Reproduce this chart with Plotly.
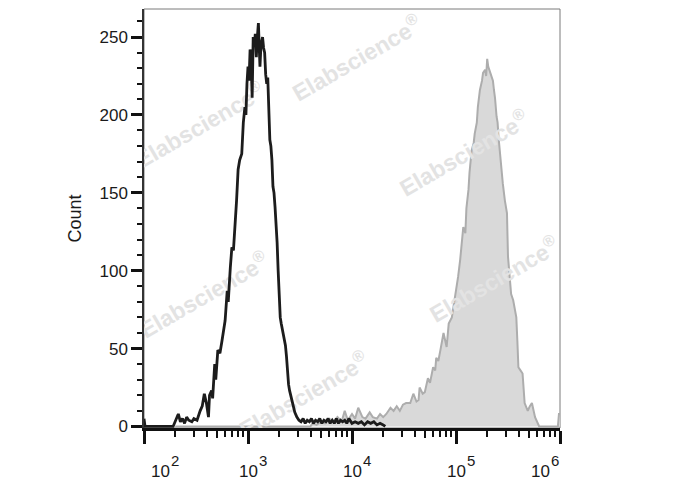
import plotly.graph_objects as go

# ---------------- data ----------------
# x positions are given as log10 of the fluorescence intensity
black_log10_x = [
    2.00, 2.01, 2.28, 2.30, 2.33, 2.35, 2.37, 2.39, 2.41, 2.43,
    2.46, 2.48, 2.51, 2.54, 2.56, 2.58, 2.60, 2.62, 2.63, 2.65,
    2.66, 2.68, 2.69, 2.71, 2.73, 2.75, 2.77, 2.78, 2.80, 2.81,
    2.83, 2.845, 2.86, 2.875, 2.89, 2.905, 2.92, 2.94, 2.955, 2.97,
    2.98, 2.99, 3.00, 3.01, 3.02, 3.03, 3.04, 3.05, 3.06, 3.07,
    3.08, 3.09, 3.10, 3.11, 3.115, 3.125, 3.14, 3.15, 3.16, 3.17,
    3.18, 3.19, 3.20, 3.21, 3.22, 3.23, 3.24, 3.25, 3.26, 3.27,
    3.28, 3.29, 3.30, 3.31, 3.32, 3.34, 3.36, 3.37, 3.38, 3.39,
    3.40, 3.42, 3.43, 3.45, 3.47, 3.49, 3.51, 3.53, 3.55, 3.57,
    3.59, 3.61, 3.63, 3.65, 3.67, 3.69, 3.71, 3.73, 3.75, 3.77,
    3.79, 3.81, 3.83, 3.85, 3.87, 3.89, 3.91, 3.93, 3.95, 3.97,
    4.00, 4.03, 4.06, 4.09, 4.12, 4.15, 4.18, 4.21, 4.24, 4.27,
    4.30, 4.32,
]
black_count = [
    5, 0, 0, 3, 8, 3, 5, 2, 6, 4,
    3, 5, 4, 10, 13, 21, 15, 6, 20, 23,
    18, 40, 30, 49, 47, 55, 63, 68, 87, 80,
    102, 115, 113, 126, 145, 165, 171, 175, 195, 205,
    200, 220, 231, 222, 242, 235, 211, 250, 244, 252,
    237, 250, 259, 240, 231, 245, 250, 243, 240, 226,
    220, 224, 200, 184, 180, 171, 154, 150, 141, 130,
    118, 100, 80, 70, 66, 60, 52, 45, 31, 27,
    23, 17, 15, 9, 6, 4, 3, 5, 2, 4,
    3, 5, 2, 4, 3, 5, 2, 4, 3, 5,
    2, 4, 2, 5, 2, 4, 3, 4, 2, 5,
    2, 3, 2, 3, 1, 3, 2, 3, 1, 2,
    1, 0,
]

grey_log10_x = [
    2.30, 3.60, 3.62, 3.66, 3.70, 3.74, 3.78, 3.82, 3.86, 3.90,
    3.93, 3.96, 4.00, 4.03, 4.06, 4.10, 4.13, 4.17, 4.20, 4.24,
    4.27, 4.30, 4.33, 4.37, 4.40, 4.43, 4.46, 4.49, 4.52, 4.56,
    4.59, 4.62, 4.64, 4.65, 4.68, 4.70, 4.73, 4.75, 4.78, 4.80,
    4.81, 4.83, 4.85, 4.88, 4.91, 4.93, 4.96, 4.98, 5.01, 5.02,
    5.04, 5.05, 5.06, 5.07, 5.09, 5.10, 5.12, 5.13, 5.15, 5.17,
    5.18, 5.20, 5.21, 5.23, 5.25, 5.26, 5.28, 5.29, 5.30, 5.31,
    5.33, 5.345, 5.355, 5.365, 5.375, 5.39, 5.40, 5.41, 5.42, 5.44,
    5.45, 5.47, 5.49, 5.50, 5.52, 5.53, 5.55, 5.58, 5.59, 5.60,
    5.62, 5.64, 5.66, 5.69, 5.71, 5.73, 5.76, 5.79, 5.80, 5.98,
    5.99, 6.00,
]
grey_count = [
    0, 0, 2, 1, 3, 2, 5, 3, 6, 3,
    10, 4, 8, 5, 12, 6, 5, 9, 6, 5,
    8, 6, 8, 12, 10, 13, 10, 14, 15, 15,
    21, 16, 17, 25, 21, 22, 31, 28, 38, 36,
    44, 42, 49, 60, 51, 66, 70, 78, 92, 96,
    107, 113, 120, 128, 124, 140, 152, 163, 177, 182,
    188, 195, 205, 216, 222, 227, 229, 225, 236, 231,
    227, 224, 222, 216, 211, 199, 195, 185, 177, 166,
    156, 145, 137, 109, 89, 85, 81, 70, 55, 38,
    36, 34, 15, 10, 13, 15, 6, 2, 0, 0,
    8, 8,
]

x_tick_exponents = [2, 3, 4, 5, 6]
y_tick_values = [0, 50, 100, 150, 200, 250]
y_axis_title = "Count"
watermark_text = "Elabscience<sup>®</sup>"
# watermark centres: (log10 x, count)
watermark_centres = [
    (4.05, 236), (2.54, 193), (5.08, 175),
    (2.58, 84), (5.37, 94), (3.54, 20),
]

assert len(black_log10_x) == len(black_count)
assert len(grey_log10_x) == len(grey_count)

FONT = "Liberation Sans, Arial, Helvetica, sans-serif"

black_x = [10 ** v for v in black_log10_x]
grey_x = [10 ** v for v in grey_log10_x]

fig = go.Figure()

# grey filled histogram (main subplot)
fig.add_trace(go.Scatter(
    x=grey_x, y=grey_count, mode="lines",
    line=dict(color="#adadad", width=2),
    fill="tozeroy", fillcolor="#d9d9d9",
    xaxis="x", yaxis="y", hoverinfo="skip", showlegend=False,
))

# black open histogram (second subplot, drawn above the watermark)
fig.add_trace(go.Scatter(
    x=black_x, y=black_count, mode="lines",
    line=dict(color="#1c1c1c", width=2.8),
    xaxis="x2", yaxis="y2", hoverinfo="skip", showlegend=False,
))

# tick positions on the log axis
minor_vals = [m * 10 ** e for e in range(2, 6) for m in (2, 3, 4, 6, 7, 8, 9)]
mid_vals = [5 * 10 ** e for e in range(2, 6)]
major_vals = [10 ** e for e in x_tick_exponents]

y_range = [-1, 268]

# the page body adds an 8px offset, so the figure is 8px smaller than the window
fig.update_layout(
    width=680, height=482,
    margin=dict(l=136, r=128, t=1, b=62),
    paper_bgcolor="white", plot_bgcolor="rgba(0,0,0,0)",
    font=dict(family=FONT, color="#1a1a1a", size=16),
    xaxis=dict(
        type="log", range=[2, 6], domain=[0, 1], anchor="y",
        showgrid=False, zeroline=False,
        showline=True, linecolor="#111111", linewidth=2.5,
        ticks="outside", tickmode="array", tickvals=major_vals,
        ticklen=13, tickwidth=3, tickcolor="#111111",
        showticklabels=False,
        minor=dict(tickmode="array", tickvals=minor_vals, ticks="outside",
                   ticklen=6, tickwidth=1.6, tickcolor="#111111", showgrid=False),
    ),
    xaxis2=dict(
        type="log", range=[2, 6], domain=[0, 1], anchor="y2",
        showgrid=False, zeroline=False, showline=False,
        ticks="outside", tickmode="array", tickvals=mid_vals,
        ticklen=9, tickwidth=2.4, tickcolor="#111111",
        showticklabels=False,
    ),
    yaxis=dict(
        range=y_range, domain=[0, 1], anchor="x",
        showgrid=False, zeroline=False,
        showline=True, linecolor="#333333", linewidth=1.5,
        ticks="outside", tickmode="array", tickvals=y_tick_values,
        ticklen=11, tickwidth=3, tickcolor="#111111",
        tickfont=dict(family=FONT, size=17, color="#1a1a1a"),
        minor=dict(dtick=10, ticks="outside", ticklen=5, tickwidth=1.5,
                   tickcolor="#111111", showgrid=False),
    ),
    yaxis2=dict(
        range=y_range, domain=[0, 1], anchor="x2", visible=False,
    ),
)

# light frame around the plot area
fig.add_shape(type="rect", xref="paper", yref="paper", x0=0, x1=1, y0=0, y1=1,
              line=dict(color="#7a7a7a", width=1), layer="below")

# watermark (in the upper subplot's lower layer: above grey fill, below black line)
for cx, cy in watermark_centres:
    fig.add_shape(
        type="rect", xref="x2", yref="y2",
        x0=10 ** (cx - 0.01), x1=10 ** (cx + 0.01), y0=cy - 1, y1=cy + 1,
        line=dict(color="rgba(0,0,0,0)", width=0),
        fillcolor="rgba(0,0,0,0)", layer="below",
        label=dict(text=watermark_text, textangle=-30, textposition="middle center",
                   font=dict(family=FONT, size=23, color="#e3e3e3", weight="bold")),
    )

# y axis title
fig.add_annotation(text=y_axis_title, xref="paper", yref="paper",
                   x=-0.166, y=0.5, xanchor="center", yanchor="middle",
                   textangle=-90, showarrow=False,
                   font=dict(family=FONT, size=18, color="#1a1a1a"))

# x tick labels "10^n" (base + superscript exponent)
base_shift = {2: 16, 3: 0, 4: 0, 5: 0, 6: -20}
for e in x_tick_exponents:
    fig.add_annotation(text="10", xref="x", yref="paper", x=e, y=0,
                       xanchor="center", yanchor="middle",
                       xshift=base_shift[e], yshift=-43, showarrow=False,
                       font=dict(family=FONT, size=17, color="#1a1a1a"))
    fig.add_annotation(text=str(e), xref="x", yref="paper", x=e, y=0,
                       xanchor="center", yanchor="middle",
                       xshift=base_shift[e] + 15, yshift=-32, showarrow=False,
                       font=dict(family=FONT, size=15, color="#1a1a1a"))

fig.write_html("out.html")
